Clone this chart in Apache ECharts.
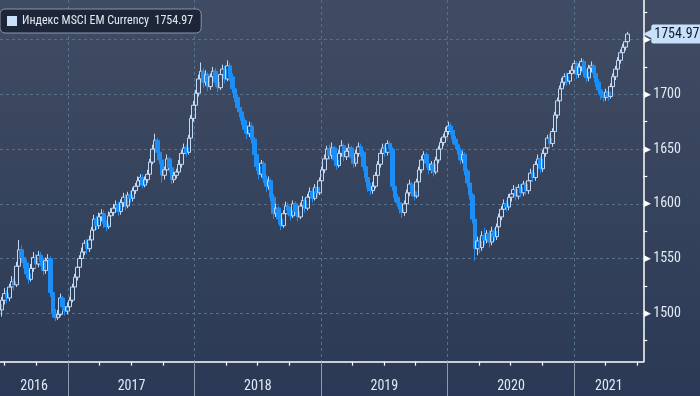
<!DOCTYPE html>
<html><head><meta charset="utf-8">
<script src="https://cdn.jsdelivr.net/npm/echarts@6/dist/echarts.min.js"></script>
<style>html,body{margin:0;padding:0;background:#2c3a57;}#c{width:700px;height:396px;}</style>
</head><body><div id="c"></div>
<script>
const seriesName = 'Индекс MSCI EM Currency';
const firstWeek = [2016, 5, 17]; // weekly candles, Fridays
const open = [1508,1503,1512,1518,1514,1524,1529,1526,1543,1558,
1551,1546,1536,1531,1541,1551,1545,1553,1547,1539,
1548,1550,1519,1500,1496,1499,1514,1506,1502,1506,
1512,1524,1533,1542,1550,1556,1564,1559,1567,1576,
1586,1580,1588,1591,1582,1579,1589,1592,1596,1599,
1593,1601,1606,1598,1608,1605,1612,1616,1621,1624,
1617,1622,1627,1638,1650,1658,1647,1640,1626,1631,
1641,1633,1622,1626,1629,1636,1646,1651,1647,1660,
1678,1690,1701,1714,1721,1711,1718,1707,1716,1721,
1711,1706,1718,1723,1714,1726,1716,1705,1697,1688,
1684,1676,1668,1664,1671,1659,1645,1634,1627,1637,
1623,1616,1621,1606,1591,1596,1586,1580,1591,1598,
1594,1589,1600,1593,1588,1598,1603,1596,1606,1611,
1605,1615,1610,1621,1631,1641,1650,1644,1651,1640,
1635,1646,1653,1643,1648,1651,1642,1637,1646,1652,
1647,1634,1624,1615,1612,1616,1626,1636,1646,1651,
1647,1655,1650,1616,1606,1601,1595,1592,1600,1610,
1618,1611,1607,1620,1631,1640,1645,1637,1631,1636,
1629,1640,1650,1656,1661,1666,1671,1667,1659,1654,
1649,1640,1645,1630,1619,1608,1586,1559,1566,1560,
1571,1567,1573,1565,1575,1570,1579,1588,1595,1600,
1597,1606,1609,1613,1607,1615,1610,1618,1612,1621,
1628,1624,1636,1641,1632,1646,1651,1660,1655,1666,
1681,1694,1705,1711,1716,1712,1719,1722,1728,1718,
1725,1730,1720,1715,1724,1726,1719,1711,1704,1699,
1697,1702,1698,1707,1716,1723,1731,1738,1743,1748];
const close = [1503,1512,1518,1514,1524,1529,1526,1543,1558,1551,
1546,1536,1531,1541,1551,1545,1553,1547,1539,1548,
1550,1519,1500,1496,1499,1514,1506,1502,1506,1512,
1524,1533,1542,1550,1556,1564,1559,1567,1576,1586,
1580,1588,1591,1582,1579,1589,1592,1596,1599,1593,
1601,1606,1598,1608,1605,1612,1616,1621,1624,1617,
1622,1627,1638,1650,1658,1647,1640,1626,1631,1641,
1633,1622,1626,1629,1636,1646,1651,1647,1660,1678,
1690,1701,1714,1721,1711,1718,1707,1716,1721,1711,
1706,1718,1723,1714,1726,1716,1705,1697,1688,1684,
1676,1668,1664,1671,1659,1645,1634,1627,1637,1623,
1616,1621,1606,1591,1596,1586,1580,1591,1598,1594,
1589,1600,1593,1588,1598,1603,1596,1606,1611,1605,
1615,1610,1621,1631,1641,1650,1644,1651,1640,1635,
1646,1653,1643,1648,1651,1642,1637,1646,1652,1647,
1634,1624,1615,1612,1616,1626,1636,1646,1651,1647,
1655,1650,1616,1606,1601,1595,1592,1600,1610,1618,
1611,1607,1620,1631,1640,1645,1637,1631,1636,1629,
1640,1650,1656,1661,1666,1671,1667,1659,1654,1649,
1640,1645,1630,1619,1608,1586,1559,1566,1560,1571,
1567,1573,1565,1575,1570,1579,1588,1595,1600,1597,
1606,1609,1613,1607,1615,1610,1618,1612,1621,1628,
1624,1636,1641,1632,1646,1651,1660,1655,1666,1681,
1694,1705,1711,1716,1712,1719,1722,1728,1718,1725,
1730,1720,1715,1724,1726,1719,1711,1704,1699,1697,
1702,1698,1707,1716,1723,1731,1738,1743,1748,1754.97];
const low = [1492,1497,1508,1509,1511,1519,1521,1524,1540,1546,
1541,1532,1527,1529,1538,1541,1542,1543,1535,1536,
1544,1515,1496,1493,1494,1497,1502,1498,1499,1503,
1510,1521,1530,1539,1547,1553,1554,1556,1564,1573,
1576,1577,1584,1578,1575,1577,1585,1589,1592,1589,
1590,1597,1594,1596,1601,1602,1609,1613,1618,1614,
1615,1619,1625,1636,1647,1643,1636,1619,1622,1628,
1629,1618,1619,1623,1627,1633,1643,1643,1645,1658,
1675,1687,1698,1711,1706,1708,1703,1704,1712,1707,
1702,1704,1714,1710,1712,1712,1701,1693,1684,1679,
1672,1664,1659,1661,1655,1641,1630,1622,1624,1619,
1611,1613,1602,1586,1588,1581,1576,1578,1588,1590,
1585,1587,1589,1584,1586,1594,1592,1594,1603,1601,
1603,1606,1608,1618,1628,1638,1640,1641,1636,1631,
1633,1643,1639,1640,1645,1638,1633,1634,1643,1643,
1630,1620,1611,1608,1609,1614,1623,1633,1643,1643,
1644,1646,1612,1602,1597,1591,1587,1589,1597,1607,
1607,1603,1605,1617,1628,1637,1633,1627,1628,1625,
1627,1637,1647,1653,1658,1663,1663,1655,1650,1645,
1636,1637,1626,1615,1604,1582,1548,1553,1555,1557,
1562,1564,1560,1562,1566,1567,1576,1585,1592,1593,
1594,1602,1606,1603,1604,1606,1607,1608,1609,1618,
1620,1621,1633,1628,1629,1643,1648,1651,1652,1663,
1678,1691,1702,1708,1708,1709,1715,1719,1714,1715,
1721,1716,1711,1712,1720,1715,1707,1700,1695,1693,
1694,1694,1696,1704,1713,1720,1728,1735,1740,1745];
const high = [1512,1515,1523,1521,1527,1534,1532,1547,1567,1562,
1554,1549,1539,1545,1556,1554,1557,1556,1550,1551,
1554,1552,1521,1504,1503,1518,1516,1509,1510,1515,
1527,1536,1546,1553,1560,1567,1568,1571,1579,1590,
1589,1592,1595,1594,1585,1593,1596,1600,1603,1602,
1604,1610,1609,1611,1612,1615,1619,1625,1627,1627,
1625,1631,1641,1654,1664,1660,1650,1642,1634,1645,
1643,1636,1629,1632,1640,1649,1655,1654,1663,1681,
1694,1704,1718,1729,1724,1722,1720,1719,1725,1724,
1714,1721,1727,1726,1731,1729,1719,1708,1700,1691,
1687,1679,1671,1675,1674,1661,1648,1637,1640,1639,
1626,1625,1623,1609,1600,1598,1589,1594,1602,1601,
1597,1603,1602,1596,1601,1607,1605,1609,1615,1614,
1618,1617,1624,1634,1645,1653,1654,1656,1653,1643,
1649,1658,1655,1651,1655,1653,1645,1649,1656,1655,
1649,1637,1627,1619,1620,1629,1639,1649,1655,1654,
1658,1657,1652,1619,1609,1604,1598,1603,1613,1622,
1620,1614,1623,1634,1644,1648,1647,1640,1639,1638,
1643,1653,1660,1664,1670,1675,1674,1669,1662,1657,
1651,1648,1647,1632,1622,1610,1589,1570,1569,1575,
1578,1576,1576,1579,1578,1582,1591,1598,1604,1603,
1609,1612,1617,1616,1618,1618,1621,1620,1624,1632,
1631,1639,1645,1643,1649,1655,1663,1664,1669,1684,
1697,1708,1715,1719,1720,1722,1726,1731,1730,1728,
1733,1732,1723,1727,1730,1728,1722,1714,1707,1702,
1705,1705,1710,1719,1726,1734,1741,1746,1751,1757];
const yLabelValues = [1500, 1550, 1600, 1650, 1700, 1750];
const yMinorValues = [1475, 1525, 1575, 1625, 1675, 1725, 1775];
const yearList = [2016, 2017, 2018, 2019, 2020, 2021];
const axisStart = [2016, 5, 18];
const axisEnd = [2021, 6, 19];
const yMin = 1455.8, yMax = 1786.1;

const F = '"Liberation Sans Narrow", "Roboto Condensed", Roboto, "Liberation Sans", sans-serif';
const dates = close.map((_, i) => new Date(firstWeek[0], firstWeek[1], firstWeek[2] + 7 * i).getTime());
const xMin = new Date(axisStart[0], axisStart[1], axisStart[2]).getTime();
const xMax = new Date(axisEnd[0], axisEnd[1], axisEnd[2]).getTime();
const yearStarts = yearList.slice(1).map(y => new Date(y, 0, 1).getTime());
const quarterTicks = [];
yearList.forEach(y => [3, 6, 9].forEach(m => {
  const t = new Date(y, m, 1).getTime();
  if (t > xMin && t < xMax) quarterTicks.push(t);
}));
const yearMids = yearList.map(y => {
  const s = Math.max(new Date(y, 0, 1).getTime(), xMin);
  const e = Math.min(new Date(y + 1, 0, 1).getTime(), xMax);
  return (s + e) / 2;
});
const last = close[close.length - 1];
const candles = dates.map((d, i) => [d, open[i], close[i], low[i], high[i]]);

const chart = echarts.init(document.getElementById('c'), null, {renderer: 'canvas'});
chart.setOption({
  animation: false,
  backgroundColor: {type: 'linear', x: 0, y: 0, x2: 0, y2: 1, colorStops: [
    {offset: 0, color: '#404c63'}, {offset: 0.5, color: '#36435c'}, {offset: 1, color: '#2b3956'}]},
  grid: {left: 0, right: 56.7, top: 0, bottom: 34.3, containLabel: false, outerBoundsMode: 'none'},
  legend: {
    show: true, left: 0, top: 9, selectedMode: false,
    data: [{name: seriesName, itemStyle: {color: '#c9e0fb', borderWidth: 0}}],
    icon: 'rect', itemWidth: 10, itemHeight: 10, itemGap: 5,
    backgroundColor: '#1d2638', borderColor: '#8a96a8', borderWidth: 1, borderRadius: 5,
    padding: [6, 8, 6, 7],
    textStyle: {color: '#e3eaf4', fontSize: 12, fontFamily: F},
    formatter: n => n + '  ' + last.toFixed(2)
  },
  xAxis: [{
    type: 'value', min: xMin, max: xMax, position: 'bottom',
    axisLine: {show: true, onZero: false, lineStyle: {color: '#ffffff', width: 1.5}},
    axisTick: {show: true, customValues: yearStarts, length: 35, lineStyle: {color: '#8f9bad', width: 1}},
    axisLabel: {show: true, customValues: yearMids, margin: 18, hideOverlap: false,
      formatter: v => String(new Date(v).getFullYear()),
      color: '#e2e9f3', fontSize: 14, fontFamily: F},
    splitLine: {show: true, lineStyle: {color: '#56708b', type: [3, 3], width: 1}}
  }, {
    type: 'value', min: xMin, max: xMax, position: 'bottom',
    axisLine: {show: false, onZero: false},
    axisTick: {show: true, customValues: quarterTicks, length: 4, lineStyle: {color: '#ffffff', width: 1.2}},
    axisLabel: {show: false},
    splitLine: {show: false}
  }],
  yAxis: [{
    type: 'value', position: 'right', min: yMin, max: yMax,
    axisLine: {show: true, onZero: false, lineStyle: {color: '#ffffff', width: 1.5}},
    axisTick: {show: false, customValues: yLabelValues},
    axisLabel: {show: true, customValues: yLabelValues, margin: 1,
      formatter: v => '{a|▶}{b|' + v + '}',
      rich: {a: {color: '#ffffff', fontSize: 9, padding: [0, 2, 0, 0]},
             b: {color: '#e2e9f3', fontSize: 14, fontFamily: F}}},
    splitLine: {show: true, lineStyle: {color: '#56708b', type: [3, 3], width: 1}}
  }, {
    type: 'value', position: 'right', min: yMin, max: yMax,
    axisLine: {show: false, onZero: false},
    axisTick: {show: true, customValues: yMinorValues, length: 4, lineStyle: {color: '#ffffff', width: 1.2}},
    axisLabel: {show: false},
    splitLine: {show: false}
  }],
  series: [{
    type: 'candlestick', name: seriesName, xAxisIndex: 0, yAxisIndex: 0,
    barWidth: 4,
    data: candles,
    itemStyle: {color: 'rgba(0,0,0,0)', color0: '#1b8ef8', borderColor: '#c2d9f5', borderColor0: '#1b8ef8', borderWidth: 1},
    markLine: {
      silent: true, symbol: 'none', animation: false,
      lineStyle: {color: 'rgba(0,0,0,0)'},
      label: {show: true, position: 'end', distance: 0,
        formatter: () => '{a|◀}{b|' + last.toFixed(2) + '}',
        rich: {a: {color: '#c9e0fb', fontSize: 12, padding: [0, -1, 0, 0]},
               b: {color: '#0c1a2e', backgroundColor: '#c9e0fb', fontSize: 14, fontFamily: F,
                   padding: [3, 4, 2, 3], borderRadius: 2}}},
      data: [{yAxis: last}]
    }
  }]
});
</script></body></html>
